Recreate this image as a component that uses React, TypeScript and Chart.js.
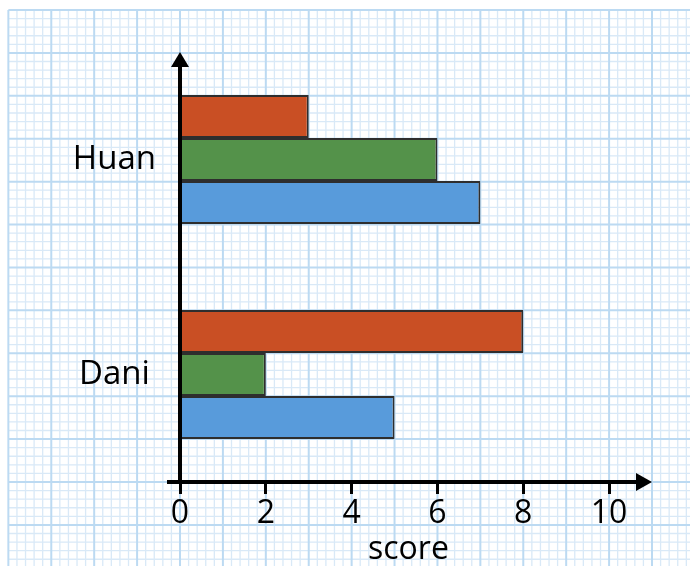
import React, { useEffect, useRef } from "react";
import { Chart, registerables } from "chart.js";

Chart.register(...registerables);

const categories = ["Huan", "Dani"];
const seriesNames = ["Series A", "Series B", "Series C"];
const orangeValues = [3, 8];
const greenValues = [6, 2];
const blueValues = [7, 5];
const xTickValues = [0, 2, 4, 6, 8, 10];
const xAxisTitle = "score";

const FONT = "'Open Sans', 'Noto Sans', sans-serif";

const paperPlugin = {
  id: "paper",
  beforeDraw(chart: any) {
    const { ctx, scales } = chart;
    const xs = scales.x;
    const x0 = xs.getPixelForValue(0);
    const u = xs.getPixelForValue(1) - x0;
    const y0 = chart.chartArea.bottom;
    const left = x0 - 4 * u;
    const top = y0 - 11 * u;
    const right = chart.width;
    const bottom = chart.height;
    const step = u / 5;
    ctx.save();
    ctx.fillStyle = "#ffffff";
    ctx.fillRect(left, top, right - left, bottom - top);
    for (let pass = 0; pass < 2; pass++) {
      const major = pass === 1;
      ctx.strokeStyle = major ? "#bcdaf2" : "#d9e9f7";
      ctx.lineWidth = major ? 2 : 1.3;
      for (let k = 0; ; k++) {
        const x = left + k * step;
        if (x > right + 1) break;
        if ((k % 5 === 0) !== major) continue;
        ctx.beginPath();
        ctx.moveTo(x, top);
        ctx.lineTo(x, bottom);
        ctx.stroke();
      }
      for (let k = 0; ; k++) {
        const y = top + k * step;
        if (y > bottom + 1) break;
        if ((k % 5 === 0) !== major) continue;
        ctx.beginPath();
        ctx.moveTo(left, y);
        ctx.lineTo(right, y);
        ctx.stroke();
      }
    }
    ctx.restore();
  },
};

const axesPlugin = {
  id: "axesArrows",
  afterDatasetsDraw(chart: any) {
    const { ctx, chartArea } = chart;
    const { left, right, top, bottom } = chartArea;
    ctx.save();
    ctx.strokeStyle = "#000";
    ctx.fillStyle = "#000";
    ctx.lineWidth = 4;
    ctx.lineCap = "butt";
    ctx.beginPath();
    ctx.moveTo(left, bottom + 2);
    ctx.lineTo(left, top + 12);
    ctx.stroke();
    ctx.beginPath();
    ctx.moveTo(left, top);
    ctx.lineTo(left - 9, top + 15);
    ctx.lineTo(left + 9, top + 15);
    ctx.closePath();
    ctx.fill();
    ctx.beginPath();
    ctx.moveTo(left - 13, bottom);
    ctx.lineTo(right - 12, bottom);
    ctx.stroke();
    ctx.beginPath();
    ctx.moveTo(right, bottom);
    ctx.lineTo(right - 16, bottom - 9);
    ctx.lineTo(right - 16, bottom + 9);
    ctx.closePath();
    ctx.fill();
    ctx.font = `32px ${FONT}`;
    ctx.textAlign = "center";
    ctx.textBaseline = "alphabetic";
    ctx.fillText(xAxisTitle, left + (right - left) * 0.484, chart.height - 7);
    ctx.restore();
  },
};

export default function App() {
  const ref = useRef<HTMLCanvasElement | null>(null);
  useEffect(() => {
    if (!ref.current) return;
    const chart = new Chart(ref.current, {
      type: "bar",
      data: {
        labels: categories,
        datasets: [
          { label: seriesNames[0], data: orangeValues, backgroundColor: "#c94f24" },
          { label: seriesNames[1], data: greenValues, backgroundColor: "#54924a" },
          { label: seriesNames[2], data: blueValues, backgroundColor: "#589bdb" },
        ].map((d) => ({
          ...d,
          borderColor: "#2e2e2e",
          borderWidth: 2,
          categoryPercentage: 0.6,
          barPercentage: 1,
        })),
      },
      options: {
        indexAxis: "y",
        responsive: false,
        animation: false,
        devicePixelRatio: 1,
        layout: { padding: { top: 52, right: 38, left: 0, bottom: 0 } },
        plugins: {
          legend: { display: false },
          tooltip: { enabled: false },
          title: { display: false },
        },
        scales: {
          x: {
            type: "linear",
            min: 0,
            max: 11,
            afterBuildTicks: (scale: any) => {
              scale.ticks = xTickValues.map((v) => ({ value: v }));
            },
            afterFit: (scale: any) => {
              scale.height = 84;
            },
            border: { display: false },
            grid: {
              display: true,
              drawOnChartArea: false,
              drawTicks: true,
              tickLength: 12,
              color: "#000",
              lineWidth: 3,
            },
            ticks: {
              color: "#000",
              font: { family: FONT, size: 32 },
              padding: 1,
              maxRotation: 0,
              autoSkip: false,
            },
          },
          y: {
            type: "category",
            afterFit: (scale: any) => {
              scale.width = 180;
            },
            border: { display: false },
            grid: { display: false, drawTicks: false, tickLength: 0 },
            ticks: {
              color: "#000",
              font: { family: FONT, size: 33 },
              padding: 24,
              crossAlign: "center",
            },
          },
        },
      },
      plugins: [paperPlugin, axesPlugin],
    } as any);
    return () => chart.destroy();
  }, []);
  return (
    <div style={{ position: "absolute", left: 0, top: 0, width: 690, height: 566 }}>
      <canvas ref={ref} width={690} height={566} style={{ width: 690, height: 566 }} />
    </div>
  );
}
